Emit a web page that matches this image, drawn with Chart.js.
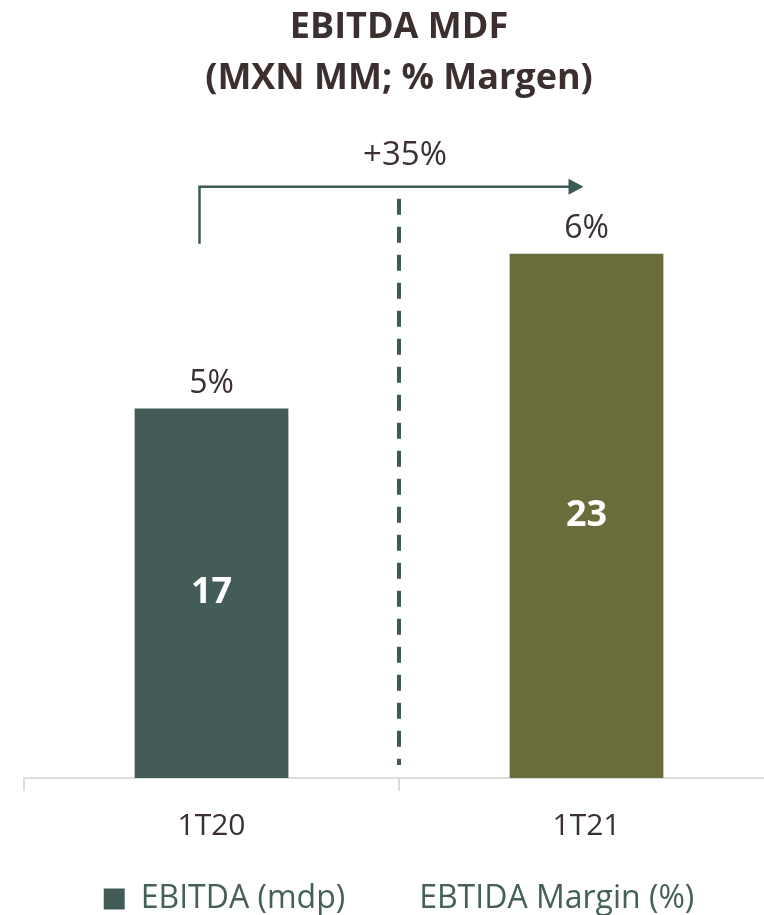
<!DOCTYPE html>
<html>
<head>
<meta charset="utf-8">
<script src="https://cdn.jsdelivr.net/npm/chart.js@4"></script>
<style>
  html, body { margin: 0; padding: 0; background: #fff; overflow: hidden; width: 764px; height: 915px; }
  #wrap { position: absolute; left: 0; top: 0; width: 800px; height: 925px; }
</style>
</head>
<body>
<div id="wrap"><canvas id="ebitda-chart" width="800" height="925"></canvas></div>
<script>
// chart values
const categories = ['1T20', '1T21'];
const ebitda = [16.5, 23.4];          // MXN MM
const margins = [5, 6];               // % margin
const growthLabel = '+35%';
const titleLines = ['EBITDA MDF', '(MXN MM; % Margen)'];
const seriesNames = ['EBITDA (mdp)', 'EBTIDA Margin (%)'];

const barColors = ['#435c57', '#6a6d3b'];
const textColor = '#3b2f2f';
const accent = '#3e5a55';
const axisColor = '#e0dcdb';
const font = "'Open Sans', 'DejaVu Sans', sans-serif";

// labels, growth arrow and divider
const annotations = {
    id: 'annotations',
    afterDraw(chart) {
        const ctx = chart.ctx;
        const bars = chart.getDatasetMeta(0).data;
        const xs = chart.scales.x;
        const area = chart.chartArea;

        ctx.save();
        ctx.textAlign = 'center';
        ctx.textBaseline = 'middle';

        // values inside bars
        ctx.fillStyle = '#ffffff';
        ctx.font = `bold 36px ${font}`;
        bars.forEach((b, i) => {
            ctx.fillText(String(Math.round(ebitda[i])), b.x, (b.y + b.base) / 2);
        });

        // margins above bars
        ctx.fillStyle = textColor;
        ctx.font = `32px ${font}`;
        bars.forEach((b, i) => {
            ctx.fillText(`${margins[i]}%`, b.x, b.y - 25);
        });

        // dashed divider between categories
        const midX = (xs.getPixelForValue(0) + xs.getPixelForValue(1)) / 2;
        const topBar = Math.min(...bars.map(b => b.y));
        ctx.strokeStyle = accent;
        ctx.lineWidth = 4;
        ctx.setLineDash([16, 12]);
        ctx.beginPath();
        ctx.moveTo(midX, topBar - 55);
        ctx.lineTo(midX, area.bottom - 13);
        ctx.stroke();
        ctx.setLineDash([]);

        // growth arrow
        const ay = topBar - 67;
        const x0 = bars[0].x - 12;
        const x1 = bars[1].x - 3;
        ctx.lineWidth = 2.5;
        ctx.beginPath();
        ctx.moveTo(x0, topBar - 10);
        ctx.lineTo(x0, ay);
        ctx.lineTo(x1 - 14, ay);
        ctx.stroke();
        ctx.fillStyle = accent;
        ctx.beginPath();
        ctx.moveTo(x1, ay);
        ctx.lineTo(x1 - 15, ay - 8);
        ctx.lineTo(x1 - 15, ay + 8);
        ctx.closePath();
        ctx.fill();

        ctx.fillStyle = textColor;
        ctx.font = `33px ${font}`;
        ctx.fillText(growthLabel, midX + 6, ay - 31);
        ctx.restore();
    }
};

const ctx = document.getElementById('ebitda-chart').getContext('2d');
new Chart(ctx, {
    type: 'bar',
    data: {
        labels: categories,
        datasets: [
            {
                label: seriesNames[0],
                data: ebitda,
                backgroundColor: barColors,
                borderWidth: 0,
                categoryPercentage: 1,
                barPercentage: 0.41,
                yAxisID: 'y'
            },
            {
                type: 'line',
                label: seriesNames[1],
                data: margins,
                yAxisID: 'y2',
                showLine: false,
                pointRadius: 0,
                borderWidth: 0,
                borderColor: 'rgba(0,0,0,0)',
                backgroundColor: 'rgba(0,0,0,0)'
            }
        ]
    },
    options: {
        responsive: false,
        animation: false,
        layout: { padding: { left: 24, right: 26, top: 0, bottom: 0 } },
        plugins: {
            title: {
                display: true,
                text: titleLines,
                color: textColor,
                font: { family: font, size: 36, weight: 'bold', lineHeight: 1.4 },
                padding: { top: 3, bottom: 47 }
            },
            legend: {
                position: 'bottom',
                labels: {
                    color: '#45605b',
                    boxWidth: 21,
                    boxHeight: 21,
                    padding: 37,
                    font: { family: font, size: 32 }
                }
            },
            tooltip: { enabled: false }
        },
        scales: {
            y: { display: false, min: 0, max: 28 },
            y2: { display: false, min: 0, max: 10 },
            x: {
                offset: true,
                afterFit: (scale) => { scale.height -= 15; },
                grid: {
                    offset: true,
                    drawOnChartArea: false,
                    drawTicks: true,
                    tickLength: 13,
                    color: axisColor,
                    lineWidth: 2
                },
                border: { display: true, color: axisColor, width: 2 },
                ticks: {
                    color: textColor,
                    padding: 17,
                    maxRotation: 0,
                    font: { family: font, size: 30 }
                }
            }
        }
    },
    plugins: [annotations]
});
</script>
</body>
</html>
